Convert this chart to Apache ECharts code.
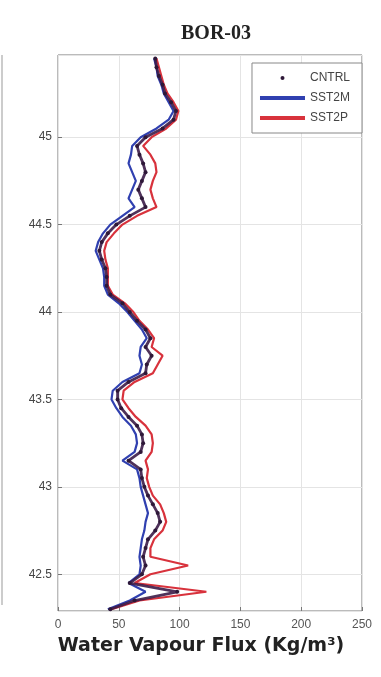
<!DOCTYPE html>
<html>
<head>
<meta charset="utf-8">
<script src="https://cdn.jsdelivr.net/npm/echarts@6/dist/echarts.min.js"></script>
<style>
  html, body { margin: 0; padding: 0; background: #fff; }
  #chart { width: 381px; height: 677px; }
</style>
</head>
<body>
<div id="chart"></div>
<script>
// latitude levels, top to bottom
const lat = [
  45.45, 45.40, 45.35, 45.30, 45.25, 45.20, 45.15, 45.10, 45.05, 45.00,
  44.95, 44.90, 44.85, 44.80, 44.75, 44.70, 44.65, 44.60, 44.55, 44.50,
  44.45, 44.40, 44.35, 44.30, 44.25, 44.20, 44.15, 44.10, 44.05, 44.00,
  43.95, 43.90, 43.85, 43.80, 43.75, 43.70, 43.65, 43.60, 43.55, 43.50,
  43.45, 43.40, 43.35, 43.30, 43.25, 43.20, 43.15, 43.10, 43.05, 43.00,
  42.95, 42.90, 42.85, 42.80, 42.75, 42.70, 42.65, 42.60, 42.55, 42.50,
  42.45, 42.40, 42.35, 42.30
]

// water vapour flux for each run (Kg/m3)
const cntrl = [
  80, 81, 83, 86, 88, 93, 97, 95, 86, 72,
  65, 67, 70, 72, 69, 66, 69, 72, 59, 48,
  41, 36, 34, 36, 39, 40, 40, 43, 53, 59,
  65, 72, 76, 72, 77, 73, 72, 58, 49, 49,
  52, 58, 65, 69, 70, 68, 58, 68, 69, 71,
  74, 78, 82, 84, 80, 74, 72, 70, 72, 69,
  59, 98, 63, 43
]
const sst2m = [
  79, 81, 82, 85, 87, 91, 95, 91, 81, 68,
  61, 60, 58, 61, 64, 61, 58, 63, 53, 43,
  37, 33, 31, 34, 37, 38, 38, 41, 50, 57,
  63, 69, 73, 68, 67, 69, 67, 53, 45, 44,
  48, 53, 60, 64, 65, 63, 53, 65, 67, 68,
  70, 72, 74, 72, 71, 69, 68, 67, 68, 67,
  58, 72, 59, 41
]
const sst2p = [
  81, 83, 85, 87, 90, 95, 99, 97, 89, 77,
  70, 76, 80, 81, 78, 76, 78, 81, 65, 53,
  46, 40, 38, 39, 41, 41, 41, 45, 55, 62,
  67, 74, 79, 77, 86, 82, 78, 63, 54, 53,
  58, 64, 72, 77, 78, 77, 72, 74, 73, 75,
  78, 84, 87, 89, 86, 79, 76, 76, 107, 76,
  63, 122, 67, 44
]

const xTicks = [0, 50, 100, 150, 200, 250]

const chart = echarts.init(document.getElementById('chart'))

const pairs = (vals) => lat.map((l, i) => [vals[i], l])

const option = {
  animation: false,
  title: {
    text: 'BOR-03',
    left: 211,
    top: 19,
    textAlign: 'center',
    textStyle: {
      fontFamily: 'Liberation Serif',
      fontWeight: 'bold',
      fontSize: 20,
      color: '#222'
    }
  },
  legend: {
    orient: 'vertical',
    right: 19,
    top: 63,
    backgroundColor: '#fff',
    borderColor: '#888',
    borderWidth: 1,
    padding: [9, 12, 9, 8],
    itemGap: 8,
    itemWidth: 45,
    itemHeight: 4,
    textStyle: { fontFamily: 'Liberation Sans', fontSize: 12, color: '#444' },
    data: [
      { name: 'CNTRL', icon: 'circle' },
      { name: 'SST2M', icon: 'rect' },
      { name: 'SST2P', icon: 'rect' }
    ]
  },
  grid: {
    left: 58,
    right: 19,
    top: 55,
    bottom: 66,
    show: true,
    borderColor: '#777',
    borderWidth: 1
  },
  xAxis: {
    type: 'value',
    min: 0,
    max: 250,
    interval: 50,
    axisLine: { show: false },
    axisTick: { show: true, inside: true, length: 4, lineStyle: { color: '#777' } },
    axisLabel: {
      fontFamily: 'Liberation Sans',
      fontSize: 12,
      color: '#555',
      margin: 8,
      formatter: (v) => (xTicks.includes(v) ? String(v) : '')
    },
    splitLine: { show: true, lineStyle: { color: '#e4e4e4', width: 1 } }
  },
  yAxis: {
    type: 'value',
    min: 42.29,
    max: 45.47,
    splitNumber: 6,
    axisLine: { show: false },
    axisTick: { show: true, inside: true, length: 4, lineStyle: { color: '#777' } },
    axisLabel: {
      fontFamily: 'Liberation Sans',
      fontSize: 12,
      color: '#444',
      margin: 6,
      showMinLabel: false,
      showMaxLabel: false
    },
    splitLine: { show: true, lineStyle: { color: '#e4e4e4', width: 1 } }
  },
  series: [
    {
      name: 'SST2M',
      type: 'line',
      data: pairs(sst2m),
      showSymbol: false,
      color: '#3040b0',
      lineStyle: { width: 2.2, color: '#3040b0' }
    },
    {
      name: 'SST2P',
      type: 'line',
      data: pairs(sst2p),
      showSymbol: false,
      color: '#d8323c',
      lineStyle: { width: 2.2, color: '#d8323c' }
    },
    {
      name: 'CNTRL',
      type: 'line',
      data: pairs(cntrl),
      symbol: 'circle',
      symbolSize: 4,
      color: '#2e1838',
      itemStyle: { color: '#2e1838' },
      lineStyle: { width: 2.8, color: '#3c1c48', opacity: 0.9 }
    }
  ],
  graphic: [
    {
      type: 'text',
      x: 201,
      y: 646,
      style: {
        text: 'Water Vapour Flux (Kg/m³)',
        fontFamily: 'DejaVu Sans',
        fontWeight: 'bold',
        fontSize: 19,
        fill: '#222',
        align: 'center',
        verticalAlign: 'middle'
      }
    },
    {
      type: 'line',
      shape: { x1: 2, y1: 55, x2: 2, y2: 605 },
      style: { stroke: '#999', lineWidth: 1 }
    }
  ]
}

chart.setOption(option)
</script>
</body>
</html>
